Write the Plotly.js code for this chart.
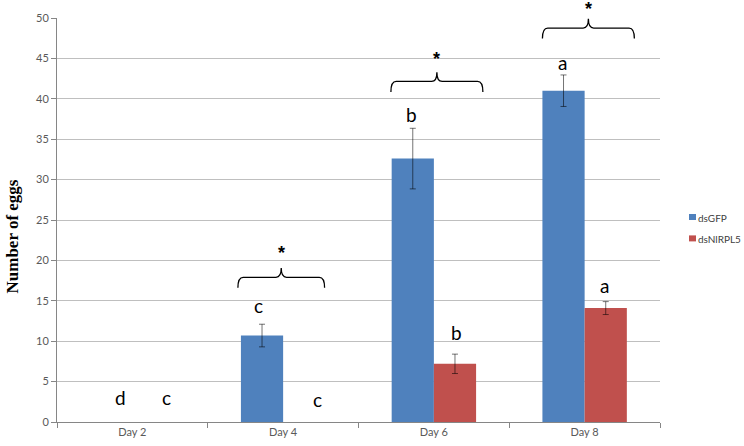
<!DOCTYPE html>
<html>
<head>
<meta charset="utf-8">
<script src="https://cdn.plot.ly/plotly-3.0.1.min.js"></script>
<style>html,body{margin:0;padding:0;background:#fff;}#chart{width:744px;height:446px;}</style>
</head>
<body>
<div id="chart"></div>
<script>
// ---- data ----
const categories = ['Day 2', 'Day 4', 'Day 6', 'Day 8'];
const seriesNames = ['dsGFP', 'dsNlRPL5'];
const gfpValues = [0, 10.7, 32.6, 41.0];
const gfpErrors = [NaN, 1.4, 3.75, 1.95];
const rplValues = [0, 0, 7.2, 14.1];
const rplErrors = [NaN, NaN, 1.2, 0.8];
const gfpLetters = ['d', 'c', 'b', 'a'];
const rplLetters = ['c', 'c', 'b', 'a'];
const starLabels = ['', '*', '*', '*'];
const yTicks = [0, 5, 10, 15, 20, 25, 30, 35, 40, 45, 50];
const yTitle = 'Number of eggs';

// ---- styling ----
const colors = ['#4F81BD', '#C0504D'];
const idx = categories.map((c, i) => i);
const half = 0.28; // bar width per series (category units)
const tickFont = {family: 'Lato, sans-serif', size: 11, color: '#595959'};
const letterFont = {family: 'Lato, sans-serif', size: 19, color: '#000'};
const num = v => (isFinite(v) ? v : 0);

const errStyle = {visible: true, color: 'rgba(0,0,0,0.55)', thickness: 1, width: 3};
const traces = [
  {type: 'bar', name: seriesNames[0], x: idx, y: gfpValues, marker: {color: colors[0]},
   error_y: Object.assign({type: 'data', array: gfpErrors}, errStyle)},
  {type: 'bar', name: seriesNames[1], x: idx, y: rplValues, marker: {color: colors[1]},
   error_y: Object.assign({type: 'data', array: rplErrors}, errStyle)}
];

// label pixel offsets (styling, not data)
const gfpLetterDY = [23, 17, 12, 10];
const rplLetterDY = [23, 21, 20, 14];
const gfpLetterDX = [9, -4, -1, -1];
const rplLetterDX = [13, 13, 2, -1];
const starDY = [0, 15, 13, 10];
const braceLeftExt = [0, 0.02, 0.005, 0.0];
const braceRightExt = [0, -0.005, 0.045, 0.05];

const annotations = [];
const shapes = [];
idx.forEach(i => {
  const gTop = gfpValues[i] + num(gfpErrors[i]);
  const rTop = rplValues[i] + num(rplErrors[i]);
  annotations.push({x: i - half / 2, y: gTop, xref: 'x', yref: 'y', text: gfpLetters[i], showarrow: false,
    yanchor: 'middle', xanchor: 'center', yshift: gfpLetterDY[i] + 2, xshift: gfpLetterDX[i], font: letterFont});
  annotations.push({x: i + half / 2, y: rTop, xref: 'x', yref: 'y', text: rplLetters[i], showarrow: false,
    yanchor: 'middle', xanchor: 'center', yshift: rplLetterDY[i] + 2, xshift: rplLetterDX[i], font: letterFont});
  if (starLabels[i]) {
    const yl = Math.max(gTop, rTop) + 5.8;
    const x0 = i - half - braceLeftExt[i], x1 = i + half + braceRightExt[i], xc = (x0 + x1) / 2;
    const d = 0.035, dn = 1.3, up = 1.15;
    shapes.push({type: 'path', xref: 'x', yref: 'y', line: {color: '#000', width: 1.3},
      path: `M ${x0},${yl - dn} Q ${x0},${yl} ${x0 + d},${yl} L ${xc - d},${yl} Q ${xc},${yl} ${xc},${yl + up} Q ${xc},${yl} ${xc + d},${yl} L ${x1 - d},${yl} Q ${x1},${yl} ${x1},${yl - dn}`});
    annotations.push({x: xc, y: yl + up, xref: 'x', yref: 'y', text: '<b>' + starLabels[i] + '</b>', showarrow: false,
      yanchor: 'middle', xanchor: 'center', yshift: starDY[i], font: {family: 'Liberation Sans, sans-serif', size: 18, color: '#000'}});
  }
});

// custom legend (small squares + labels), placed in the right margin
const W = 744, H = 446, mL = 57, mR = 84, mT = 18, mB = 24;
const pw = W - mL - mR, ph = H - mT - mB;
const px2x = p => (p - mL) / pw;
const px2y = p => (H - mB - p) / ph;
seriesNames.forEach((nm, k) => {
  const cy = 217 + k * 21.4;
  shapes.push({type: 'rect', xref: 'paper', yref: 'paper', x0: px2x(689), x1: px2x(696), y0: px2y(cy + 3), y1: px2y(cy - 3),
    fillcolor: colors[k], line: {width: 0}});
  annotations.push({xref: 'paper', yref: 'paper', x: px2x(696.5), y: px2y(cy + 0.5), xanchor: 'left', yanchor: 'middle',
    text: nm, showarrow: false, font: {family: 'Lato, sans-serif', size: 10, color: '#404040'}});
});

// y-axis title (slightly below plot centre, as in the reference)
annotations.push({xref: 'paper', yref: 'paper', x: px2x(11.5), y: px2y(237), xanchor: 'center', yanchor: 'middle',
  textangle: -90, text: '<b>' + yTitle + '</b>', showarrow: false,
  font: {family: 'Liberation Serif, serif', size: 17, color: '#000'}});

const layout = {
  width: W, height: H,
  margin: {l: mL, r: mR, t: mT, b: mB, pad: 0, autoexpand: false},
  paper_bgcolor: '#fff', plot_bgcolor: '#fff',
  barmode: 'group', bargap: 0.44, bargroupgap: 0,
  showlegend: false,
  xaxis: {
    type: 'linear', range: [-0.5, 3.5], tickvals: idx, ticktext: categories, ticks: '',
    tickfont: tickFont, showgrid: false, zeroline: false,
    showline: true, linecolor: '#868686', linewidth: 1,
    minor: {tickvals: [-0.5, 0.5, 1.5, 2.5, 3.5], ticks: 'outside', ticklen: 5, tickcolor: '#868686', showgrid: false},
    fixedrange: true
  },
  yaxis: {
    range: [0, 50], tickvals: yTicks, ticks: 'outside', ticklen: 5, tickcolor: '#868686',
    tickfont: tickFont, showgrid: true, gridcolor: '#BFBFBF', gridwidth: 1, zeroline: false,
    showline: true, linecolor: '#868686', linewidth: 1,
    automargin: false, fixedrange: true
  },
  annotations: annotations,
  shapes: shapes
};

Plotly.newPlot('chart', traces, layout, {displayModeBar: false, staticPlot: true});
</script>
</body>
</html>
